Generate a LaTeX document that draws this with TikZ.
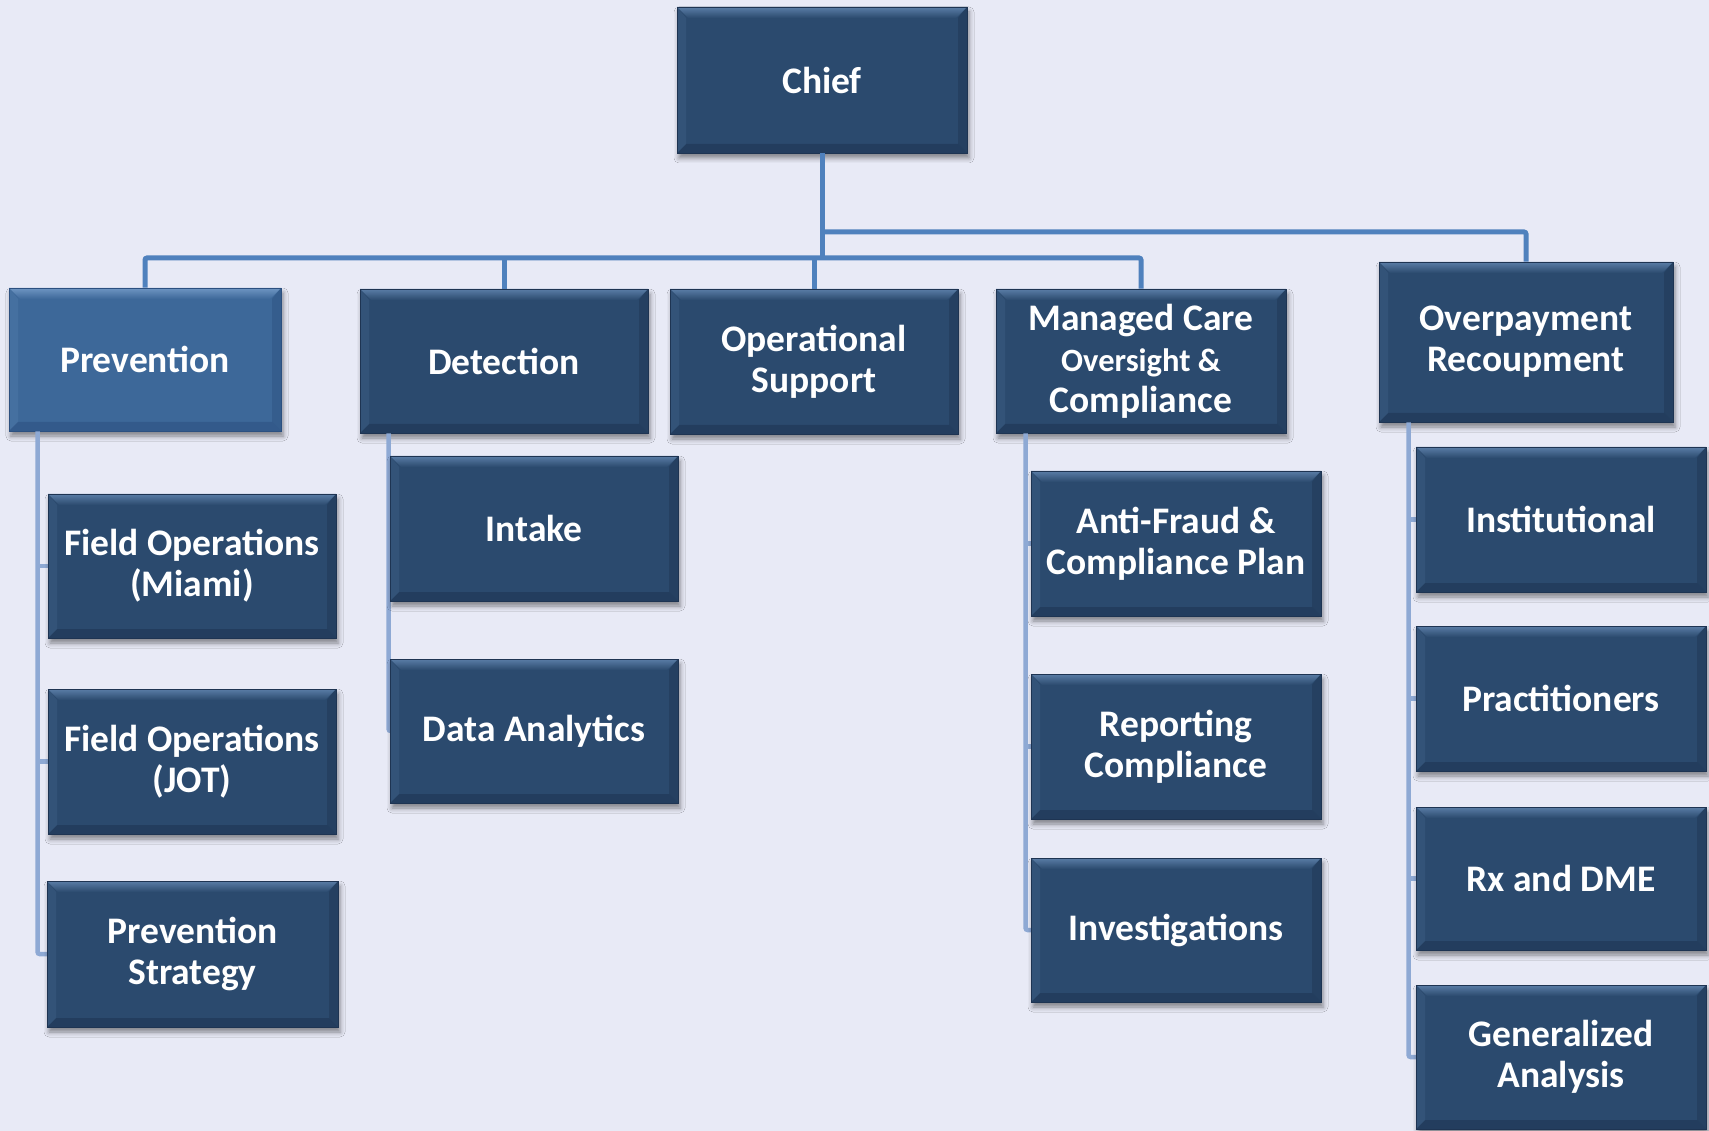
\documentclass[tikz,border=0pt]{standalone}
\usepackage{fontspec}
\setmainfont{Carlito}
\usetikzlibrary{shadows.blur}
\definecolor{bgcol}{HTML}{E8EAF6}
\definecolor{boxfill}{HTML}{2B4A6E}
\definecolor{boxtop}{HTML}{5A7DA6}
\definecolor{boxdark}{HTML}{1E3452}
\definecolor{prevfill}{HTML}{3D6899}
\definecolor{prevtop}{HTML}{6E95C2}
\definecolor{prevdark}{HTML}{2C5080}
\definecolor{mainline}{HTML}{4F81BD}
\definecolor{subline}{HTML}{8EA9D4}
\tikzset{
  bevel/.style n args={3}{
    fill=#1, draw=#3, line width=0.8pt,
    path picture={
      \coordinate (nw) at (path picture bounding box.north west);
      \coordinate (ne) at (path picture bounding box.north east);
      \coordinate (sw) at (path picture bounding box.south west);
      \coordinate (se) at (path picture bounding box.south east);
      \shade[top color=#2, bottom color=#1]
        (nw) -- (ne) -- ([shift={(-11pt,-11pt)}]ne) -- ([shift={(11pt,-11pt)}]nw) -- cycle;
      \fill[#3, opacity=0.55]
        (sw) -- (se) -- ([shift={(-9pt,9pt)}]se) -- ([shift={(9pt,9pt)}]sw) -- cycle;
      \fill[#3, opacity=0.45]
        (se) -- (ne) -- ([shift={(-9pt,-11pt)}]ne) -- ([shift={(-9pt,9pt)}]se) -- cycle;
      \fill[#2, opacity=0.18]
        (sw) -- (nw) -- ([shift={(9pt,-11pt)}]nw) -- ([shift={(9pt,9pt)}]sw) -- cycle;
    }},
  unit/.style={rectangle, inner sep=0pt, text=white, align=center,
    font=\bfseries\fontsize{37.5}{41}\selectfont,
    blur shadow={shadow xshift=2pt, shadow yshift=-5pt, shadow blur radius=5pt, shadow opacity=45},
    bevel={boxfill}{boxtop}{boxdark}},
  prevunit/.style={unit, bevel={prevfill}{prevtop}{prevdark}},
  mainconn/.style={draw=mainline, line width=5pt, rounded corners=2pt},
  subconn/.style={draw=subline, line width=4.5pt, rounded corners=2pt},
}
\begin{document}
\begin{tikzpicture}[x=1pt,y=-1pt]
\fill[bgcol] (0,0) rectangle (1709,1131);
\useasboundingbox (0,0) rectangle (1709,1131);

\coordinate (busL) at (0,258);
\coordinate (busR) at (0,232);

\node[unit, minimum width=290pt, minimum height=146pt] (chief) at (822,80) {Chief};
\node[prevunit, minimum width=272pt, minimum height=143pt] (prev) at (145,359.5) {Prevention};
\node[unit, minimum width=288pt, minimum height=144pt] (det) at (504,361) {Detection};
\node[unit, minimum width=288pt, minimum height=145pt] (ops) at (814,361.5) {Operational\\Support};
\node[unit, minimum width=290pt, minimum height=144pt] (mco) at (1141,361) {Managed Care\\{\fontsize{32.5}{38}\selectfont Oversight \&}\\Compliance};
\node[unit, minimum width=294pt, minimum height=160pt] (ovr) at (1526,342) {Overpayment\\Recoupment};

\draw[mainconn] (chief.south) -- (chief.south |- busL);
\draw[mainconn] (prev.north) -- (prev.north |- busL) -- (mco.north |- busL) -- (mco.north);
\draw[mainconn] (det.north) -- (det.north |- busL);
\draw[mainconn] (ops.north) -- (ops.north |- busL);
\draw[mainconn] (chief.south |- busR) -- (ovr.north |- busR) -- (ovr.north);

\coordinate (prevbar) at ([xshift=29pt]prev.south west);
\coordinate (detbar) at ([xshift=29pt]det.south west);
\coordinate (mcobar) at ([xshift=30pt]mco.south west);
\coordinate (ovrbar) at ([xshift=30pt]ovr.south west);

\draw[subconn] (prevbar) |- (192,954);
\draw[subconn] (detbar) |- (534,731);
\draw[subconn] (mcobar) |- (1176,930);
\draw[subconn] (ovrbar) |- (1561,1057);
\draw[subconn] (prevbar |- 0,566) -- (192,566);
\draw[subconn] (prevbar |- 0,761.5) -- (192,761.5);
\draw[subconn] (detbar |- 0,528.5) -- (534,528.5);
\draw[subconn] (mcobar |- 0,543.5) -- (1176,543.5);
\draw[subconn] (mcobar |- 0,746.5) -- (1176,746.5);
\draw[subconn] (ovrbar |- 0,519.5) -- (1561,519.5);
\draw[subconn] (ovrbar |- 0,698.5) -- (1561,698.5);
\draw[subconn] (ovrbar |- 0,878.5) -- (1561,878.5);

\node[unit, minimum width=288pt, minimum height=144pt] (miami) at (192,566) {Field Operations\\(Miami)};
\node[unit, minimum width=288pt, minimum height=145pt] (jot) at (192,761.5) {Field Operations\\(JOT)};
\node[unit, minimum width=291pt, minimum height=146pt] (pstrat) at (192.5,954) {Prevention\\Strategy};
\node[unit, minimum width=288pt, minimum height=145pt] (intake) at (534,528.5) {Intake};
\node[unit, minimum width=288pt, minimum height=144pt] (data) at (534,731) {Data Analytics};
\node[unit, minimum width=290pt, minimum height=145pt] (af) at (1176,543.5) {Anti-Fraud \&\\Compliance Plan};
\node[unit, minimum width=290pt, minimum height=145pt] (rep) at (1176,746.5) {Reporting\\Compliance};
\node[unit, minimum width=290pt, minimum height=144pt] (inv) at (1176,930) {Investigations};
\node[unit, minimum width=290pt, minimum height=145pt] (inst) at (1561,519.5) {Institutional};
\node[unit, minimum width=290pt, minimum height=145pt] (prac) at (1561,698.5) {Practitioners};
\node[unit, minimum width=290pt, minimum height=143pt] (rx) at (1561,878.5) {Rx and DME};
\node[unit, minimum width=290pt, minimum height=144pt] (gen) at (1561,1057) {Generalized\\Analysis};
\end{tikzpicture}
\end{document}
